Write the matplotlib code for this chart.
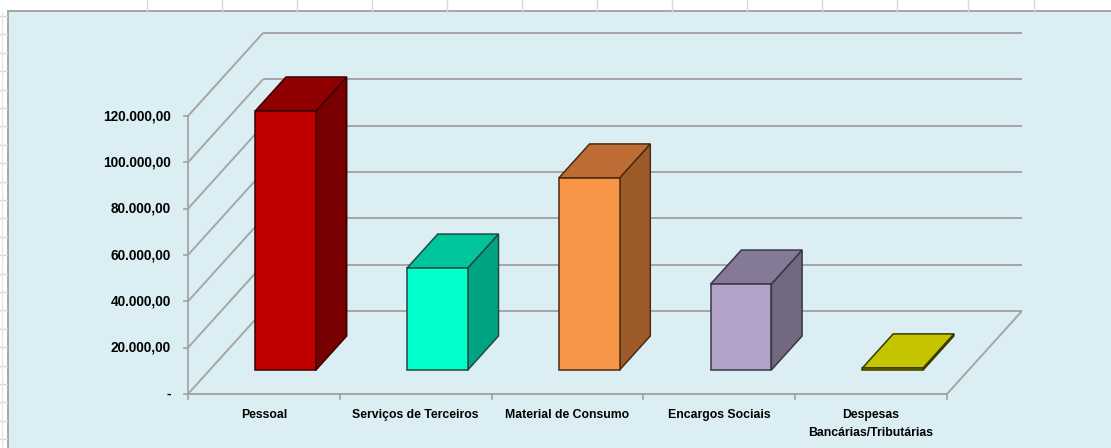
import numpy as np
import matplotlib.pyplot as plt
from matplotlib.patches import Polygon, Rectangle

# ---------------- data ----------------
categories = ["Pessoal", "Serviços de Terceiros", "Material de Consumo",
              "Encargos Sociais", "Despesas\nBancárias/Tributárias"]
values = [111800, 44000, 82900, 37100, 900]
y_ticks = [0, 20000, 40000, 60000, 80000, 100000, 120000]

front_colors = ["#C00000", "#00FFCC", "#F79646", "#B3A2C7", "#A8A800"]
top_colors = ["#900000", "#00C49A", "#BE6E35", "#857A95", "#C4C400"]
side_colors = ["#780000", "#00A382", "#9E5B2A", "#726880", "#707000"]
edge_colors = ["#3A0000", "#1F4A40", "#4A2A10", "#3A3545", "#3A3A00"]

# ---------------- geometry (category units / value units) ----------------
W, H = 1111, 448
X0, CW = 188, 151.8          # pixel of category 0, pixel per category
Y0, K = 394, 46.33 / 20000   # pixel of value 0, pixel per value unit

DC = 75 / CW                 # full depth shift in category units
DV = 83 / K                  # full depth shift in value units
D_FRONT, D_BACK = 0.289, 0.699
BAR_L, BAR_W = 0.30, 0.40


def pt(c, v, d=0.0):
    return (c + d * DC, v + d * DV)


def fmt(v):
    if v == 0:
        return "-"
    return f"{v:,.2f}".replace(",", "X").replace(".", ",").replace("X", ".")


plt.rcParams['font.family'] = ['Liberation Sans', 'DejaVu Sans']

fig = plt.figure(figsize=(W / 100, H / 100), dpi=100)
fig.patch.set_facecolor("white")

# spreadsheet cells behind the chart
bg = fig.add_axes([0, 0, 1, 1])
bg.set_xlim(0, W)
bg.set_ylim(H, 0)
bg.axis("off")
for x in [147, 222, 297, 372, 447, 522, 597, 672, 747, 822, 897, 968, 1034]:
    bg.plot([x, x], [0, 12], color="#D9D9D9", lw=1)
for y in np.arange(16, H, 18.4):
    bg.plot([0, 7], [y, y], color="#D9D9D9", lw=1)
bg.plot([2, 2], [12, H], color="#E6E6E6", lw=1)
bg.add_patch(Rectangle((7.5, 11.5), W, H, facecolor="#DAEEF3",
                       edgecolor="#A6A6A6", lw=1.4))

ax = fig.add_axes([0, 0, 1, 1])
ax.set_xlim(-X0 / CW, (W - X0) / CW)
ax.set_ylim((Y0 - H) / K, Y0 / K)
ax.axis("off")
ax.patch.set_alpha(0)

n = len(categories)
grid_kw = dict(color="#A6A6A6", lw=1.4, zorder=1, solid_capstyle="butt")

# left wall + back wall gridlines
for v in y_ticks:
    a, b = pt(0, v, 0), pt(0, v, 1)
    ax.plot([a[0], b[0]], [a[1], b[1]], **grid_kw)
    c = pt(n, v, 1)
    ax.plot([b[0], c[0]], [b[1], c[1]], **grid_kw)

# floor edges
p0, p1, p2 = pt(0, 0), pt(n, 0), pt(n, 0, 1)
ax.plot([p0[0], p1[0]], [p0[1], p1[1]], **grid_kw)
ax.plot([p1[0], p2[0]], [p1[1], p2[1]], **grid_kw)

# value axis
ax.plot([0, 0], [0, y_ticks[-1]], color="#A0A0A0", lw=1.2, zorder=2)
for v in y_ticks:
    ax.plot([-4 / CW, 0], [v, v], color="#A0A0A0", lw=1.2, zorder=2)
    ax.text(-17 / CW, v, fmt(v), ha="right", va="center",
            fontsize=9.8, fontweight="bold", color="black")

# category ticks and labels
for i in range(n + 1):
    ax.plot([i, i], [0, -5 / K], color="#A0A0A0", lw=1.2, zorder=2)
for i, lab in enumerate(categories):
    ax.text(i + 0.5, -14.5 / K, lab, ha="center", va="top", fontsize=8.8,
            fontweight="bold", color="black", linespacing=1.75)

# 3D bars
for i, v in enumerate(values):
    l, r = i + BAR_L, i + BAR_L + BAR_W
    front = [pt(l, 0, D_FRONT), pt(r, 0, D_FRONT), pt(r, v, D_FRONT), pt(l, v, D_FRONT)]
    top = [pt(l, v, D_FRONT), pt(r, v, D_FRONT), pt(r, v, D_BACK), pt(l, v, D_BACK)]
    side = [pt(r, 0, D_FRONT), pt(r, 0, D_BACK), pt(r, v, D_BACK), pt(r, v, D_FRONT)]
    for poly, col in [(side, side_colors[i]), (top, top_colors[i]), (front, front_colors[i])]:
        ax.add_patch(Polygon(poly, closed=True, facecolor=col,
                             edgecolor=edge_colors[i], lw=1.1, zorder=5,
                             joinstyle="miter"))

fig.savefig("out.png", dpi=100)
